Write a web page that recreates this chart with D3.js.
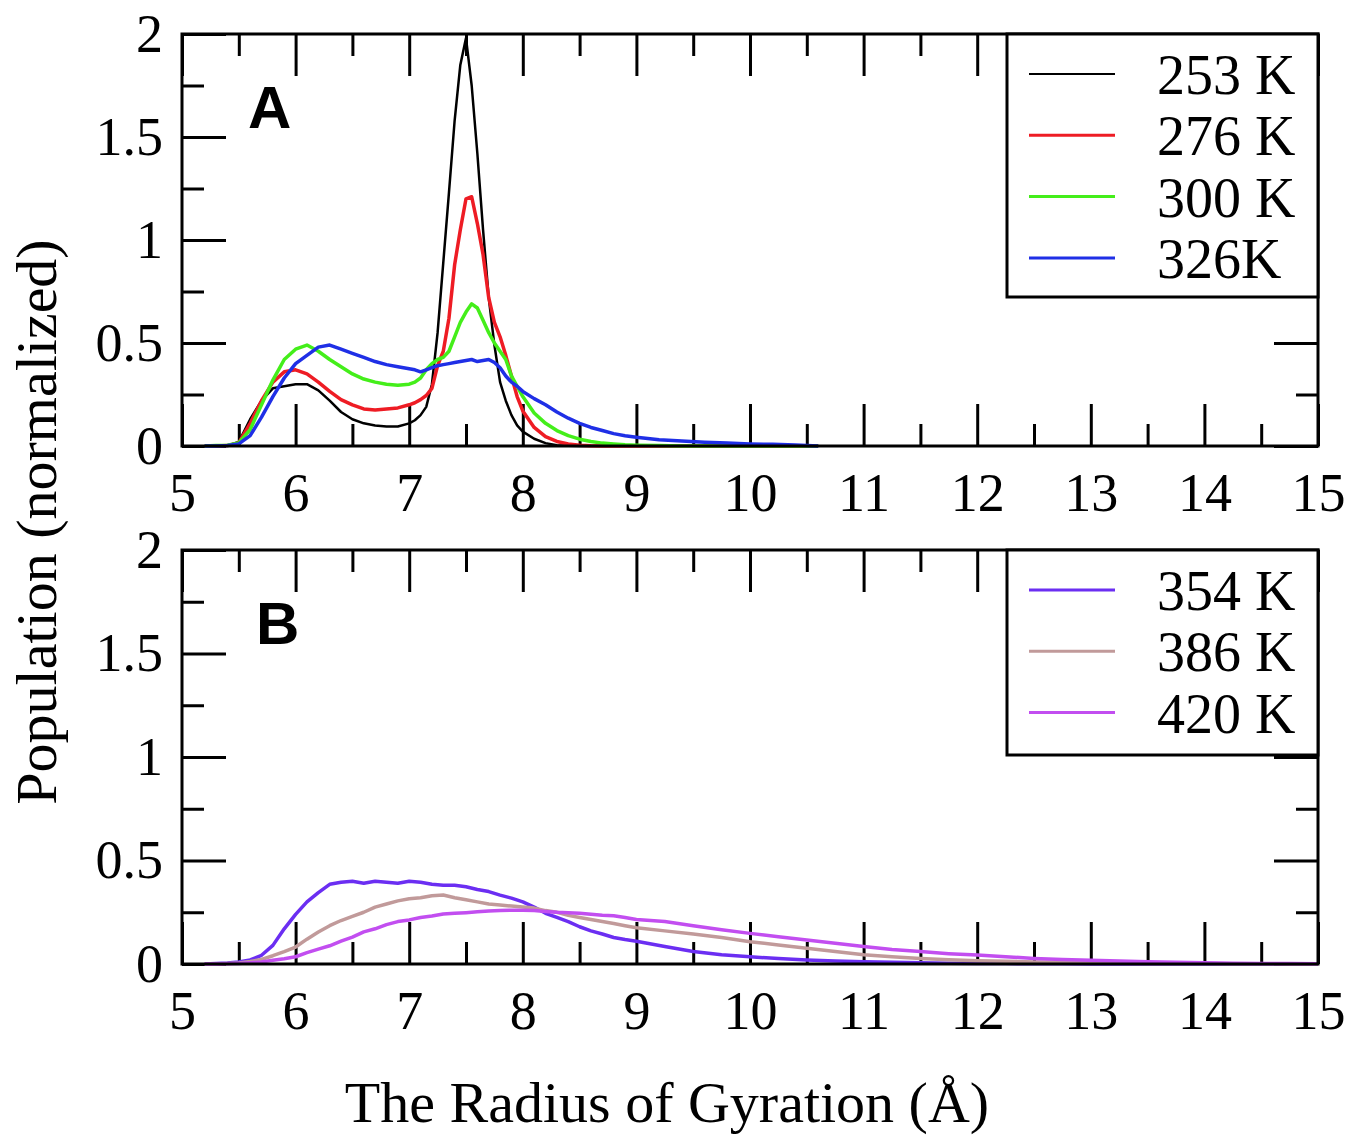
<!DOCTYPE html>
<html>
<head>
<meta charset="utf-8">
<script src="https://cdn.jsdelivr.net/npm/d3@7"></script>
<style>
  body { margin: 0; background: #fff; }
  svg text { font-family: "Liberation Serif", "Times New Roman", serif; fill: #000; }
</style>
</head>
<body>
<svg id="chart" width="1351" height="1138"></svg>
<script>
// panel A: radius of gyration grid and populations
var xA = [5.2, 5.3, 5.4, 5.5, 5.6, 5.7, 5.8, 5.9, 6.0, 6.1, 6.2, 6.3, 6.4, 6.5, 6.6, 6.7, 6.8, 6.9, 7.0,
  7.05, 7.1, 7.15, 7.2, 7.25, 7.3, 7.35, 7.4, 7.45, 7.5, 7.55, 7.6, 7.65, 7.7, 7.75, 7.8, 7.85, 7.9, 7.95, 8.0,
  8.1, 8.2, 8.3, 8.4, 8.5, 8.6, 8.7, 8.8, 8.9, 9.0, 9.2, 9.4, 9.6, 9.8, 10.0, 10.2, 10.4, 10.6];
var pop253 = [0, 0, 0.003, 0.02, 0.13, 0.22, 0.28, 0.29, 0.30, 0.30, 0.27, 0.22, 0.165, 0.13, 0.11, 0.10, 0.095, 0.095, 0.11,
  0.125, 0.15, 0.19, 0.30, 0.55, 0.89, 1.23, 1.58, 1.85, 1.98, 1.75, 1.42, 1.05, 0.72, 0.49, 0.31, 0.22, 0.15, 0.10, 0.07,
  0.035, 0.014, 0.004, 0.001, 0, 0, 0, 0, 0, 0, 0, 0, 0, 0, 0, 0, 0, 0];
var pop276 = [0, 0, 0.002, 0.015, 0.11, 0.22, 0.31, 0.36, 0.37, 0.35, 0.31, 0.265, 0.225, 0.20, 0.18, 0.175, 0.18, 0.185, 0.20,
  0.21, 0.225, 0.245, 0.28, 0.39, 0.46, 0.62, 0.88, 1.05, 1.20, 1.21, 1.08, 0.93, 0.72, 0.60, 0.53, 0.44, 0.34, 0.24, 0.17,
  0.09, 0.045, 0.022, 0.01, 0.004, 0.001, 0, 0, 0, 0, 0, 0, 0, 0, 0, 0, 0, 0];
var pop300 = [0, 0.002, 0.004, 0.015, 0.08, 0.20, 0.32, 0.42, 0.47, 0.49, 0.46, 0.42, 0.385, 0.35, 0.325, 0.31, 0.30, 0.295, 0.30,
  0.31, 0.33, 0.37, 0.40, 0.42, 0.43, 0.46, 0.53, 0.60, 0.65, 0.69, 0.67, 0.61, 0.55, 0.50, 0.46, 0.42, 0.34, 0.29, 0.24,
  0.16, 0.11, 0.075, 0.05, 0.033, 0.022, 0.014, 0.01, 0.006, 0.004, 0.002, 0, 0, 0, 0, 0, 0, 0];
var pop326 = [0, 0, 0.002, 0.01, 0.05, 0.14, 0.24, 0.33, 0.40, 0.44, 0.48, 0.49, 0.47, 0.45, 0.43, 0.41, 0.395, 0.385, 0.375,
  0.37, 0.36, 0.37, 0.38, 0.39, 0.395, 0.40, 0.405, 0.41, 0.415, 0.42, 0.41, 0.415, 0.42, 0.405, 0.38, 0.34, 0.31, 0.29, 0.265,
  0.23, 0.20, 0.165, 0.135, 0.11, 0.09, 0.075, 0.06, 0.05, 0.042, 0.03, 0.024, 0.018, 0.014, 0.01, 0.008, 0.005, 0];

// panel B
var xB = [5.2, 5.3, 5.4, 5.5, 5.6, 5.7, 5.8, 5.9, 6.0, 6.1, 6.2, 6.3, 6.4, 6.5, 6.6, 6.7, 6.8, 6.9, 7.0,
  7.1, 7.2, 7.3, 7.4, 7.5, 7.6, 7.7, 7.8, 7.9, 8.0, 8.1, 8.2, 8.3, 8.4, 8.5, 8.6, 8.7, 8.8, 8.9, 9.0,
  9.25, 9.5, 9.75, 10.0, 10.25, 10.5, 10.75, 11.0, 11.25, 11.5, 11.75, 12.0, 12.25, 12.5, 12.75, 13.0,
  13.25, 13.5, 13.75, 14.0, 14.25, 14.5, 14.75, 15.0];
var pop354 = [0, 0.002, 0.005, 0.01, 0.02, 0.042, 0.09, 0.17, 0.24, 0.30, 0.345, 0.385, 0.395, 0.40, 0.39, 0.40, 0.395, 0.39, 0.40,
  0.395, 0.385, 0.38, 0.38, 0.373, 0.36, 0.35, 0.333, 0.318, 0.30, 0.275, 0.245, 0.225, 0.205, 0.18, 0.16, 0.145, 0.128, 0.118, 0.11,
  0.085, 0.06, 0.045, 0.035, 0.026, 0.019, 0.014, 0.011, 0.008, 0.006, 0.004, 0.003, 0.002, 0.001, 0.001, 0,
  0, 0, 0, 0, 0, 0, 0, 0];
var pop386 = [0, 0, 0.002, 0.005, 0.012, 0.022, 0.04, 0.06, 0.082, 0.12, 0.155, 0.185, 0.21, 0.23, 0.25, 0.275, 0.29, 0.305, 0.315,
  0.32, 0.33, 0.333, 0.32, 0.31, 0.30, 0.29, 0.285, 0.28, 0.275, 0.27, 0.258, 0.25, 0.235, 0.225, 0.215, 0.205, 0.196, 0.185, 0.175,
  0.16, 0.145, 0.128, 0.108, 0.092, 0.076, 0.06, 0.045, 0.035, 0.027, 0.021, 0.016, 0.013, 0.01, 0.008, 0.006,
  0.004, 0.003, 0.002, 0.002, 0.001, 0.001, 0, 0];
var pop420 = [0, 0, 0.001, 0.003, 0.006, 0.01, 0.018, 0.025, 0.035, 0.055, 0.072, 0.088, 0.11, 0.13, 0.155, 0.17, 0.19, 0.205, 0.213,
  0.225, 0.232, 0.242, 0.245, 0.248, 0.252, 0.256, 0.258, 0.26, 0.26, 0.258, 0.254, 0.25, 0.248, 0.245, 0.24, 0.235, 0.233, 0.225, 0.215,
  0.205, 0.185, 0.165, 0.148, 0.132, 0.116, 0.10, 0.085, 0.07, 0.06, 0.05, 0.043, 0.035, 0.027, 0.022, 0.018,
  0.014, 0.011, 0.008, 0.006, 0.004, 0.003, 0.002, 0.001];

var xTicks = [5, 6, 7, 8, 9, 10, 11, 12, 13, 14, 15];
var xMinor = [5.5, 6.5, 7.5, 8.5, 9.5, 10.5, 11.5, 12.5, 13.5, 14.5];
var yTicks = [0, 0.5, 1, 1.5, 2];
var yMinor = [0.25, 0.75, 1.25, 1.75];

var panelA = {
  letter: "A", top: 34, bottom: 446, x: xA, legendH: 263,
  series: [
    { name: "253 K", values: pop253, color: "#000000", w: 2.5, lw: 2 },
    { name: "276 K", values: pop276, color: "#ee1c24", w: 3.5, lw: 3 },
    { name: "300 K", values: pop300, color: "#44ee1a", w: 3.5, lw: 3 },
    { name: "326K", values: pop326, color: "#1f2fe6", w: 3.5, lw: 3 }
  ]
};
var panelB = {
  letter: "B", top: 550, bottom: 964, x: xB, legendH: 205,
  series: [
    { name: "354 K", values: pop354, color: "#6b2ef2", w: 3.5, lw: 3 },
    { name: "386 K", values: pop386, color: "#c19a9a", w: 3.5, lw: 3 },
    { name: "420 K", values: pop420, color: "#c24ef0", w: 3.5, lw: 3 }
  ]
};

var svg = d3.select("#chart");
var left = 182, right = 1318;
var x = d3.scaleLinear().domain([5, 15]).range([left, right]);

function drawPanel(p) {
  var y = d3.scaleLinear().domain([0, 2]).range([p.bottom, p.top]);
  var g = svg.append("g");

  function tickStyle(sel) {
    sel.select(".domain").remove();
    sel.selectAll(".tick line").attr("stroke", "#000").attr("stroke-width", 3);
    sel.selectAll(".tick text").style("font-size", "54px");
  }

  // inner ticks, all four sides
  g.append("g").attr("transform", "translate(0," + p.bottom + ")")
    .call(d3.axisBottom(x).tickValues(xTicks).tickSize(-42).tickPadding(27).tickFormat(d3.format("d")))
    .call(tickStyle);
  g.append("g").attr("transform", "translate(0," + p.bottom + ")")
    .call(d3.axisBottom(x).tickValues(xMinor).tickSize(-22).tickFormat(""))
    .call(tickStyle);
  g.append("g").attr("transform", "translate(0," + p.top + ")")
    .call(d3.axisTop(x).tickValues(xTicks).tickSize(-42).tickFormat(""))
    .call(tickStyle);
  g.append("g").attr("transform", "translate(0," + p.top + ")")
    .call(d3.axisTop(x).tickValues(xMinor).tickSize(-22).tickFormat(""))
    .call(tickStyle);
  g.append("g").attr("transform", "translate(" + left + ",0)")
    .call(d3.axisLeft(y).tickValues(yTicks).tickSize(-44).tickPadding(19).tickFormat(function (d) { return d; }))
    .call(tickStyle);
  g.append("g").attr("transform", "translate(" + left + ",0)")
    .call(d3.axisLeft(y).tickValues(yMinor).tickSize(-22).tickFormat(""))
    .call(tickStyle);
  g.append("g").attr("transform", "translate(" + right + ",0)")
    .call(d3.axisRight(y).tickValues(yTicks).tickSize(-44).tickFormat(""))
    .call(tickStyle);
  g.append("g").attr("transform", "translate(" + right + ",0)")
    .call(d3.axisRight(y).tickValues(yMinor).tickSize(-22).tickFormat(""))
    .call(tickStyle);

  var line = d3.line()
    .x(function (d, i) { return x(p.x[i]); })
    .y(function (d) { return y(d); });

  p.series.forEach(function (s) {
    g.append("path")
      .attr("d", line(s.values))
      .attr("fill", "none")
      .attr("stroke", s.color)
      .attr("stroke-width", s.w)
      .attr("stroke-linejoin", "round");
  });

  // frame on top so zero runs sit under the axis
  g.append("rect")
    .attr("x", left).attr("y", p.top)
    .attr("width", right - left).attr("height", p.bottom - p.top)
    .attr("fill", "none").attr("stroke", "#000").attr("stroke-width", 3);

  g.append("text")
    .attr("x", p.letter == "A" ? 248 : 256).attr("y", p.top + 94)
    .style("font-family", "'Liberation Sans', Arial, sans-serif")
    .style("font-weight", "bold").style("font-size", "60px")
    .text(p.letter);

  // legend
  var lg = g.append("g").attr("transform", "translate(1007," + p.top + ")");
  lg.append("rect")
    .attr("width", right - 1007).attr("height", p.legendH)
    .attr("fill", "#fff").attr("stroke", "#000").attr("stroke-width", 3);
  p.series.forEach(function (s, i) {
    var ly = 40 + i * 61.3;
    lg.append("line")
      .attr("x1", 22).attr("x2", 108).attr("y1", ly).attr("y2", ly)
      .attr("stroke", s.color).attr("stroke-width", s.lw);
    lg.append("text")
      .attr("x", 150).attr("y", ly + 20)
      .style("font-size", "56px")
      .text(s.name);
  });
}

drawPanel(panelA);
drawPanel(panelB);

svg.append("text")
  .attr("transform", "translate(56,522) rotate(-90)")
  .attr("text-anchor", "middle")
  .style("font-size", "58px")
  .text("Population (normalized)");

svg.append("text")
  .attr("x", 667).attr("y", 1122)
  .attr("text-anchor", "middle")
  .style("font-size", "58px")
  .text("The Radius of Gyration (Å)");
</script>
</body>
</html>
